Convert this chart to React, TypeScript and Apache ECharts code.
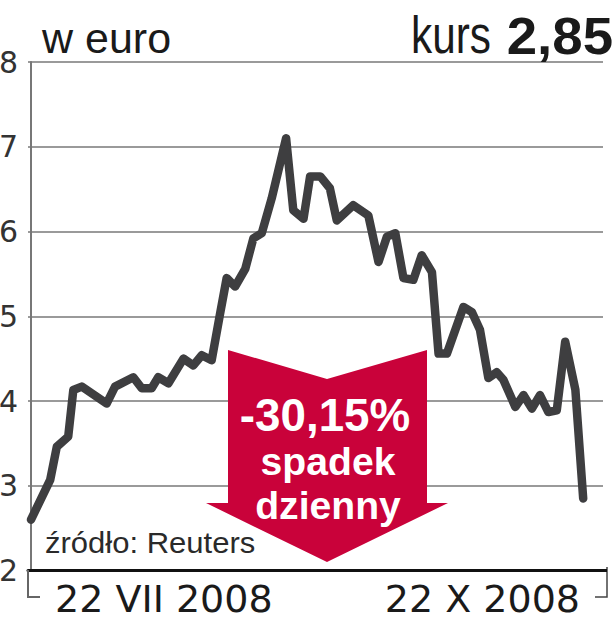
import React, { useEffect, useRef } from 'react';
import * as echarts from 'echarts';

// Calendar days counted from 22 VII 2008 (day 0) to 22 X 2008 (day 92)
const days = [
  0, 3.2, 4.3, 6.2, 7.05, 8.45, 12.6, 14.0, 17.05, 18.45, 20.1, 21.2, 22.9, 25.4,
  27.05, 28.45, 30.1, 31.5, 32.6, 34.0, 35.7, 37.05, 38.45, 40.1, 42.5, 43.7, 45.4,
  46.5, 48.2, 49.8, 50.95, 53.7, 56.2, 57.9, 59.3, 60.7, 62.05, 63.7, 65.1, 66.8,
  67.9, 69.3, 72.05, 73.45, 74.8, 76.2, 77.6, 78.7, 80.7, 82.05, 83.45, 84.8, 86.2,
  87.6, 89.0, 90.7, 92,
];
// Share price in euro
const prices = [
  2.6, 3.07, 3.46, 3.58, 4.13, 4.17, 3.97, 4.17, 4.28, 4.15, 4.15, 4.28, 4.21, 4.5,
  4.42, 4.54, 4.48, 5.03, 5.45, 5.35, 5.56, 5.92, 5.98, 6.39, 7.1, 6.25, 6.15,
  6.65, 6.65, 6.51, 6.13, 6.31, 6.19, 5.64, 5.94, 5.98, 5.45, 5.43, 5.72, 5.52,
  4.56, 4.56, 5.11, 5.05, 4.84, 4.27, 4.34, 4.25, 3.93, 4.07, 3.91, 4.07, 3.87,
  3.89, 4.7, 4.13, 2.85,
];

const yMin = 2;
const yMax = 8;
const yStep = 1;
const xMin = -0.5;
const xMax = 95.3;

const xTickLabels = ['22 VII 2008', '22 X 2008'];
const unitLabel = 'w euro';
const rateLabel = 'kurs';
const rateValue = '2,85';
const changeLines = ['-30,15%', 'spadek', 'dzienny'];
const sourceLabel = 'źródło: Reuters';

const RED = '#c9023a';
const LINE = '#3e3e40';

function txt(text: string, x: number, y: number, opts: any) {
  const align = opts.align || 'left';
  return {
    type: 'text',
    x,
    y,
    scaleX: opts.scaleX || 1,
    scaleY: opts.scaleY || 1,
    z: 20,
    style: {
      text,
      fontSize: opts.fontSize,
      lineHeight: opts.lineHeight || opts.fontSize,
      fontFamily: opts.fontFamily || 'Liberation Sans',
      fontWeight: opts.fontWeight || 'normal',
      fill: opts.fill || '#1a1a1a',
      align,
      textAlign: align,
      verticalAlign: 'middle',
      textVerticalAlign: 'middle',
    },
  };
}

export default function App() {
  const ref = useRef<HTMLDivElement>(null);

  useEffect(() => {
    if (!ref.current) return;
    const chart = echarts.init(ref.current, undefined, { renderer: 'svg' });
    const data = days.map((d, i) => [d, prices[i]]);

    chart.setOption({
      animation: false,
      backgroundColor: '#ffffff',
      grid: { left: 28, right: 12, top: 62, bottom: 69.5, outerBoundsMode: 'none', containLabel: false },
      xAxis: {
        type: 'value',
        min: xMin,
        max: xMax,
        axisLabel: { show: false },
        axisTick: { show: false },
        splitLine: { show: false },
        axisLine: { show: true, lineStyle: { color: '#111111', width: 3 } },
        z: 3,
      },
      yAxis: {
        type: 'value',
        min: yMin,
        max: yMax,
        interval: yStep,
        axisLine: { show: true, lineStyle: { color: '#777777', width: 2 } },
        axisTick: { show: false },
        splitLine: { show: true, lineStyle: { color: '#9a9a9a', width: 2 } },
        axisLabel: {
          fontSize: 30,
          fontFamily: 'DejaVu Sans',
          color: '#333333',
          margin: 10,
        },
      },
      series: [
        {
          type: 'line',
          data,
          showSymbol: false,
          symbol: 'none',
          z: 4,
          lineStyle: { color: LINE, width: 8.5, cap: 'round', join: 'round' },
        },
      ],
      graphic: [
        {
          type: 'polyline',
          z: 5,
          shape: { points: [[28, 570], [28, 597], [40, 597]] },
          style: { stroke: '#666666', lineWidth: 2, fill: null },
        },
        {
          type: 'polyline',
          z: 5,
          shape: { points: [[595, 597], [607, 597], [607, 567]] },
          style: { stroke: '#444444', lineWidth: 1.5, fill: null },
        },
        {
          type: 'line',
          z: 5,
          shape: { x1: 602, y1: 570.5, x2: 607, y2: 570.5 },
          style: { stroke: '#111111', lineWidth: 3 },
        },
        {
          type: 'polygon',
          z: 10,
          shape: {
            points: [
              [228, 350], [327, 379], [427, 350], [427, 503], [448, 503],
              [327, 562], [206, 503], [228, 503],
            ],
          },
          style: { fill: RED },
        },
        txt(changeLines[0], 325, 415.5, { fontSize: 44, lineHeight: 38, fontWeight: 'bold', fill: '#ffffff', align: 'center', scaleX: 1.04, scaleY: 1.04 }),
        txt(changeLines[1], 328, 461, { fontSize: 38, lineHeight: 36, fontWeight: 'bold', fill: '#ffffff', align: 'center', scaleX: 1.03, scaleY: 1.03 }),
        txt(changeLines[2], 328, 505, { fontSize: 38, lineHeight: 36, fontWeight: 'bold', fill: '#ffffff', align: 'center', scaleX: 1.03, scaleY: 1.03 }),
        txt(unitLabel, 42, 38, { fontSize: 43 }),
        txt(rateLabel, 491, 35.7, { fontSize: 51, scaleX: 0.83, align: 'right' }),
        txt(rateValue, 613, 35.5, { fontSize: 52, fontWeight: 'bold', scaleX: 1.05, align: 'right' }),
        txt(sourceLabel, 45, 542.5, { fontSize: 29, scaleX: 1.07, fill: '#2a2a2a' }),
        txt(xTickLabels[0], 55, 599.4, { fontSize: 38, fontFamily: 'DejaVu Sans' }),
        txt(xTickLabels[1], 580, 599.4, { fontSize: 38, fontFamily: 'DejaVu Sans', align: 'right' }),
      ],
    });

    return () => {
      chart.dispose();
    };
  }, []);

  return (
    <div
      ref={ref}
      style={{ position: 'fixed', left: 0, top: 0, width: 615, height: 640, background: '#fff' }}
    />
  );
}
